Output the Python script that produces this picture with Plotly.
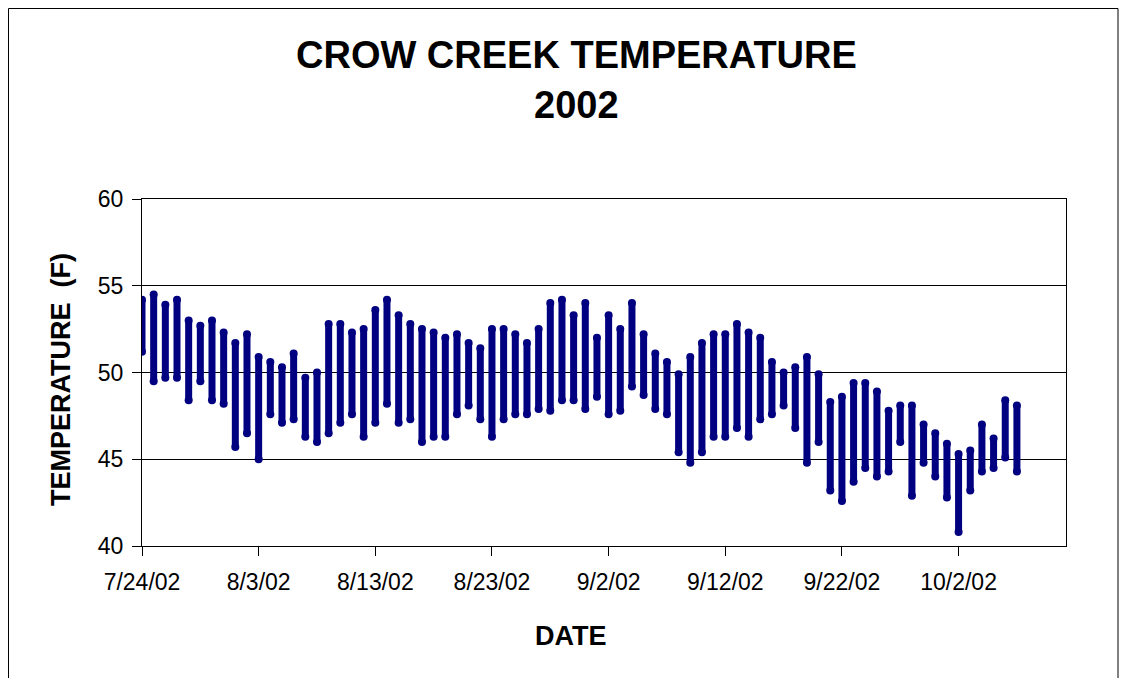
import pandas as pd
import plotly.graph_objects as go

# daily min / max water temperature (F), one column of readings per day from 7/24/02
temp_max = [54.2, 54.5, 53.9, 54.2, 53.0, 52.7, 53.0, 52.3, 51.7, 52.2,
            50.9, 50.6, 50.3, 51.1, 49.7, 50.0, 52.8, 52.8, 52.3, 52.5,
            53.6, 54.2, 53.3, 52.8, 52.5, 52.3, 52.0, 52.2, 51.7, 51.4,
            52.5, 52.5, 52.2, 51.7, 52.5, 54.0, 54.2, 53.3, 54.0, 52.0,
            53.3, 52.5, 54.0, 52.2, 51.1, 50.6, 49.9, 50.9, 51.7, 52.2,
            52.2, 52.8, 52.3, 52.0, 50.6, 50.0, 50.3, 50.9, 49.9, 48.3,
            48.6, 49.4, 49.4, 48.9, 47.8, 48.1, 48.1, 47.0, 46.5, 45.9,
            45.3, 45.5, 47.0, 46.2, 48.4, 48.1]
temp_min = [51.2, 49.5, 49.7, 49.7, 48.4, 49.5, 48.4, 48.2, 45.7, 46.5,
            45.0, 47.6, 47.1, 47.3, 46.3, 46.0, 46.5, 47.1, 47.6, 46.3,
            47.1, 48.2, 47.1, 47.3, 46.0, 46.3, 46.3, 47.6, 48.1, 47.3,
            46.3, 47.3, 47.6, 47.6, 47.9, 47.8, 48.4, 48.4, 47.9, 48.6,
            47.6, 47.8, 49.2, 48.7, 47.9, 47.6, 45.4, 44.8, 45.4, 46.3,
            46.3, 46.8, 46.3, 47.3, 47.6, 48.1, 46.8, 44.8, 46.0, 43.2,
            42.6, 43.7, 44.5, 44.0, 44.3, 46.0, 42.9, 44.8, 44.0, 42.8,
            40.8, 43.2, 44.3, 44.5, 45.1, 44.3]
days = pd.date_range("2002-07-24", periods=len(temp_max), freq="D")

xs, ys = [], []
for d, lo, hi in zip(days, temp_min, temp_max):
    xs += [d, d, None]
    ys += [lo, hi, None]

navy = "#000080"
fig = go.Figure(go.Scatter(
    x=xs, y=ys, mode="lines+markers",
    line=dict(color=navy, width=7),
    marker=dict(color=navy, size=8),
    hoverinfo="skip", showlegend=False,
))

# figure sits 8px in from the page corner (body margin)
W, H = 1111, 670
L, R, T, B = 134, 1058, 191, 538


def px_x(p):
    return (p - L) / (R - L)


def px_y(p):
    return (B - p) / (B - T)


font = "Liberation Sans, Arial, sans-serif"
fig.update_layout(
    width=W, height=H,
    margin=dict(l=L, r=W - R, t=T, b=H - B),
    paper_bgcolor="white", plot_bgcolor="white",
    font=dict(family=font, color="black"),
    xaxis=dict(
        type="date",
        range=["2002-07-24", "2002-10-11 05:00"],
        tick0="2002-07-24", dtick=864000000,
        tickformat="%-m/%-d/%y",
        ticks="outside", ticklen=9, tickcolor="black",
        showgrid=False, zeroline=False,
        showline=True, mirror=True, linecolor="black", linewidth=1,
        tickfont=dict(size=23), ticklabelstandoff=6,
    ),
    yaxis=dict(
        range=[40, 60], dtick=5,
        ticks="outside", ticklen=9, tickcolor="black",
        showgrid=True, gridcolor="black", gridwidth=1, zeroline=False,
        showline=True, mirror=True, linecolor="black", linewidth=1,
        tickfont=dict(size=23), ticklabelstandoff=4,
    ),
    annotations=[
        dict(text="<b>CROW CREEK TEMPERATURE</b>", x=px_x(568), y=px_y(47),
             font=dict(size=38)),
        dict(text="<b>2002</b>", x=px_x(568), y=px_y(97), font=dict(size=38)),
        dict(text="<b>DATE</b>", x=px_x(563), y=px_y(628), font=dict(size=27)),
        dict(text="<b>TEMPERATURE  (F)</b>", x=px_x(53), y=px_y(372),
             textangle=-90, font=dict(size=27)),
    ],
    shapes=[
        dict(type="rect", xref="paper", yref="paper",
             x0=px_x(0.5), x1=px_x(1110), y0=px_y(720), y1=px_y(0.5),
             line=dict(color="black", width=1)),
    ],
)
fig.update_annotations(xref="paper", yref="paper", showarrow=False,
                       xanchor="center", yanchor="middle")

fig.write_html("out.html")
